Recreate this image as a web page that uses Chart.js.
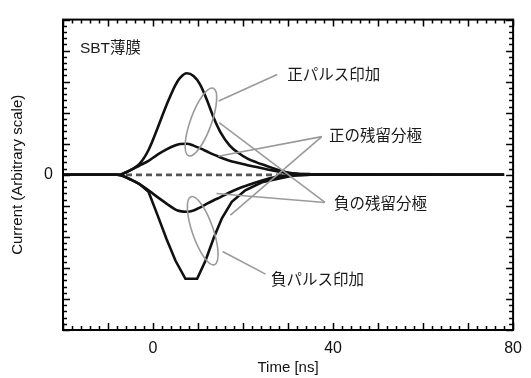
<!DOCTYPE html>
<html><head><meta charset="utf-8">
<script src="https://cdn.jsdelivr.net/npm/chart.js@4.4.0/dist/chart.umd.min.js"></script>
<style>html,body{margin:0;padding:0;background:#fff;}canvas{display:block;}</style>
</head><body>
<canvas id="c" width="531" height="378"></canvas>
<script>
// ---- data ----
const timeNs = [-20,-8,-7,-5,-3,-1,1,3,5,6,7.5,9,10.5,12,13.5,15,17,19,21,23,25,28,31,35,78];
const posPulseSwitching    = [0,0,0.02,0.15,0.35,0.8,1.5,2.25,2.9,3.12,3.27,3.18,2.9,2.4,1.83,1.37,0.95,0.7,0.52,0.4,0.3,0.15,0.05,0.02,0];
const posPulseNonSwitching = [0,0,0.02,0.15,0.3,0.45,0.65,0.82,0.95,0.99,1.0,0.94,0.85,0.75,0.65,0.56,0.45,0.38,0.31,0.25,0.19,0.1,0.04,0.02,0];
const negPulseNonSwitching = [0,0,-0.02,-0.15,-0.3,-0.5,-0.72,-0.93,-1.12,-1.17,-1.19,-1.15,-1.05,-0.93,-0.82,-0.72,-0.57,-0.44,-0.34,-0.24,-0.15,-0.05,-0.01,0,0];
const timeNsNegSwitching = [-20,-8,-7,-5,-3,-1,1,3,5,7.2,9.8,11.65,13.5,15.3,17.5,20.5,24.2,28.6,31,35,78];
const negPulseSwitching    = [0,0,-0.02,-0.15,-0.3,-0.55,-1.3,-2.07,-2.77,-3.35,-3.35,-2.77,-2.03,-1.4,-0.87,-0.5,-0.24,-0.1,-0.03,0,0];
const baselineTime  = [-6, 30];
const baselineValue = [0, 0];
const xTickLabels = [0, 40, 80];
const yTickLabels = [0];
const xTitle = 'Time [ns]';
const yTitle = 'Current (Arbitrary scale)';
const sampleLabel = 'SBT薄膜';
const labelPosPulse = '正パルス印加';
const labelPosRemanent = '正の残留分極';
const labelNegRemanent = '負の残留分極';
const labelNegPulse = '負パルス印加';

const toPts = (xs, ys) => xs.map((x, i) => ({x, y: ys[i]}));

// ---- annotation layout (data coordinates; drawn through the scales) ----
const FONT = '"Liberation Sans", "Noto Sans CJK JP", sans-serif';
const annotation = {
  texts: [
    {t: sampleLabel,      x: -16.24, y: 4.05, size: 15.5},
    {t: labelPosPulse,    x: 29.8,  y: 3.2,  size: 15.5},
    {t: labelPosRemanent, x: 39.1,  y: 1.23, size: 15.5},
    {t: labelNegRemanent, x: 40.2,  y: -0.97, size: 15.5},
    {t: labelNegPulse,    x: 26.2,  y: -3.42, size: 15.5}
  ],
  ellipses: [
    {x: 10.64, y: 1.70, rx: 36, ry: 10.5, rot: -70},
    {x: 11.04, y: -1.80, rx: 36, ry: 10.5, rot: 71}
  ],
  leaders: [
    [[14.58, 2.38], [27.6, 3.23]],
    [[15.46, -2.47], [25.0, -3.2]],
    [[37.5, 1.23], [14.5, 0.60]],
    [[37.5, 1.23], [17.2, -1.30]],
    [[38.2, -0.89], [14.7, 1.68]],
    [[38.2, -0.89], [14.1, -0.60]]
  ]
};

const frameTicks = {
  id: 'frameTicks',
  afterDraw(chart) {
    const ctx = chart.ctx;
    const area = chart.chartArea;
    const left = area.left, right = area.right, top = area.top, bottom = area.bottom;
    const xs = chart.scales.x, ys = chart.scales.y;
    ctx.save();
    // annotations
    ctx.strokeStyle = '#9a9a9a';
    ctx.lineWidth = 1.6;
    annotation.ellipses.forEach(e => {
      ctx.beginPath();
      ctx.ellipse(xs.getPixelForValue(e.x), ys.getPixelForValue(e.y), e.rx, e.ry, e.rot * Math.PI / 180, 0, 2 * Math.PI);
      ctx.stroke();
    });
    annotation.leaders.forEach(([a, b]) => {
      ctx.beginPath();
      ctx.moveTo(xs.getPixelForValue(a[0]), ys.getPixelForValue(a[1]));
      ctx.lineTo(xs.getPixelForValue(b[0]), ys.getPixelForValue(b[1]));
      ctx.stroke();
    });
    ctx.fillStyle = '#1a1a1a';
    ctx.textBaseline = 'middle';
    ctx.textAlign = 'left';
    annotation.texts.forEach(t => {
      ctx.font = t.size + 'px ' + FONT;
      ctx.fillText(t.t, xs.getPixelForValue(t.x), ys.getPixelForValue(t.y));
    });
    // frame
    ctx.strokeStyle = '#000';
    ctx.lineWidth = 2;
    ctx.strokeRect(left, top, right - left, bottom - top);
    // inward ticks
    ctx.lineWidth = 1.5;
    ctx.beginPath();
    for (let i = 0; i <= 50; i++) {
      const v = -20 + i * 2;
      const px = Math.round(xs.getPixelForValue(v)) + 0.5;
      const len = (i % 5 === 0) ? 7 : 4;
      ctx.moveTo(px, bottom); ctx.lineTo(px, bottom - len);
      ctx.moveTo(px, top); ctx.lineTo(px, top + len);
    }
    for (let i = 0; i <= 50; i++) {
      const v = -5 + i * 0.2;
      const py = Math.round(ys.getPixelForValue(v)) + 0.5;
      const len = (i % 5 === 0) ? 7 : 4;
      ctx.moveTo(left, py); ctx.lineTo(left + len, py);
      ctx.moveTo(right, py); ctx.lineTo(right - len, py);
    }
    ctx.stroke();
    ctx.restore();
  }
};

const curve = (data, smooth) => ({
  data, borderColor: '#111', borderWidth: 2.6, pointRadius: 0, fill: false,
  tension: smooth ? 0.4 : 0, cubicInterpolationMode: smooth ? 'monotone' : 'default', order: 1
});

new Chart(document.getElementById('c'), {
  type: 'line',
  data: {
    datasets: [
      {data: toPts(baselineTime, baselineValue), borderColor: '#555', borderWidth: 2.8,
       borderDash: [6, 4], pointRadius: 0, fill: false, order: 10},
      curve(toPts(timeNs, posPulseSwitching), true),
      curve(toPts(timeNs, posPulseNonSwitching), true),
      curve(toPts(timeNs, negPulseNonSwitching), true),
      curve(toPts(timeNsNegSwitching, negPulseSwitching), false)
    ]
  },
  options: {
    responsive: false,
    animation: false,
    devicePixelRatio: 1,
    layout: {padding: {top: 14, right: 16, left: 0, bottom: 0}},
    plugins: {legend: {display: false}, tooltip: {enabled: false}},
    scales: {
      x: {
        type: 'linear', min: -20, max: 80,
        grid: {display: false, drawTicks: false}, border: {display: false},
        ticks: {stepSize: 10, autoSkip: false, maxRotation: 0, padding: 9, color: '#111',
          font: {size: 16, family: FONT},
          callback: v => xTickLabels.includes(v) ? String(v) : ''},
        title: {display: true, text: xTitle, color: '#111', font: {size: 15, family: FONT}, padding: {top: 0, bottom: 1}},
        afterFit: s => { s.height = 48; }
      },
      y: {
        type: 'linear', min: -5, max: 5,
        grid: {display: false, drawTicks: false}, border: {display: false},
        ticks: {stepSize: 1, autoSkip: false, padding: 10, color: '#111',
          font: {size: 16, family: FONT},
          callback: v => yTickLabels.includes(v) ? String(v) : ''},
        title: {display: true, text: yTitle, color: '#111', font: {size: 15, family: FONT}, padding: {top: 9, bottom: 0}},
        afterFit: s => { s.width = 63; }
      }
    }
  },
  plugins: [frameTicks]
});
</script>
</body></html>
